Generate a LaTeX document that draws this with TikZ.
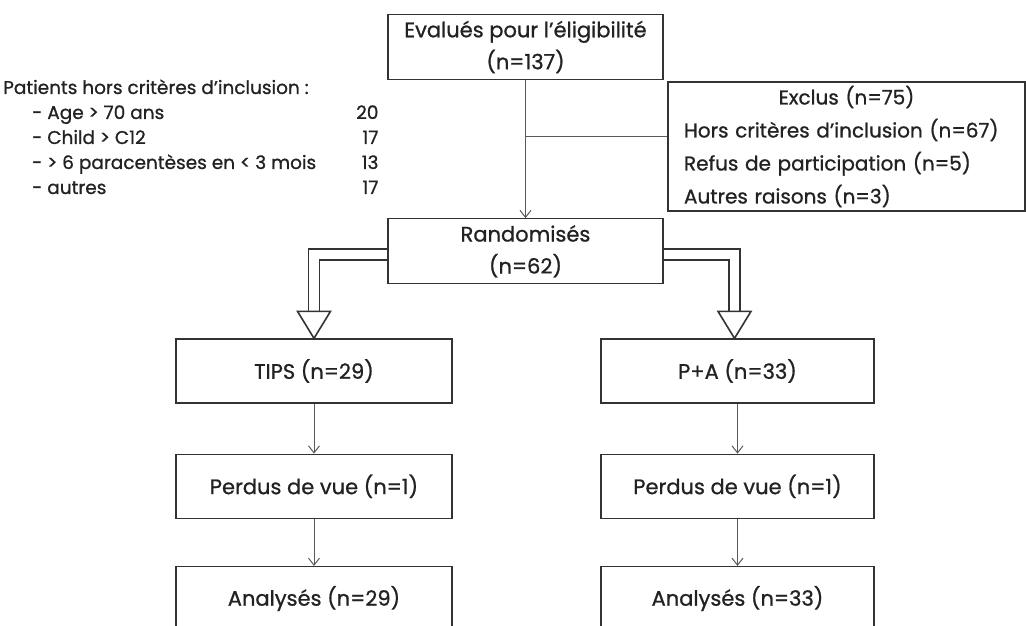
\documentclass[tikz,border=0pt]{standalone}
\usepackage{fontspec}
\setmainfont{Poppins}[FakeBold=0.9]
\usetikzlibrary{arrows.meta,positioning}
\definecolor{boxgray}{HTML}{333333}
\definecolor{linegray}{HTML}{5A5A5A}
\definecolor{txtgray}{HTML}{222222}

\begin{document}
\begin{tikzpicture}[x=1pt,y=1pt,>={Straight Barb[length=7pt,width=11pt]},
  box/.style={draw=boxgray,line width=1.3pt,minimum width=275pt,minimum height=65pt,inner sep=0pt,align=center,text=txtgray,font=\fontsize{21}{32}\selectfont},
  arr/.style={draw=linegray,line width=1pt,->},
  dbl/.style={draw=boxgray,line width=1.6pt,double=white,double distance=9.5pt,line join=miter},
  tiphead/.style={draw=boxgray,line width=1.6pt,fill=white,line join=miter}]
\useasboundingbox (0,0) rectangle (1026,626);
\node (eval) [box] at (525.5,579) {Evalués pour l’éligibilité\\(n=137)};
\node (rand) [box,below=138pt of eval] {Randomisés\\(n=62)};
\node (excl) [box,minimum width=357pt,minimum height=129pt,text width=325pt,align=left,font=\fontsize{20}{33}\selectfont] at (846.5,479.5)
  {\makebox[325pt]{Exclus (n=75)}\\Hors critères d’inclusion (n=67)\\Refus de participation (n=5)\\Autres raisons (n=3)};
\node (crit) [anchor=base west,inner sep=0pt,text=txtgray,font=\fontsize{18.5}{25}\selectfont] at (3,532)
  {\begin{tabular}[t]{@{\hspace{29pt}}p{324pt}@{}r@{}}
   \multicolumn{2}{@{}l}{Patients hors critères d’inclusion :}\\
   - Age > 70 ans & 20\\
   - Child > C12 & 17\\
   - > 6 paracentèses en < 3 mois & 13\\
   - autres & 17
   \end{tabular}};
% two arms
\node (tips) [box,minimum width=276pt,minimum height=64pt] at (314,255) {TIPS (n=29)};
\node (pa) [box,minimum width=273pt,minimum height=64pt] at (737.5,255) {P+A (n=33)};
\node (lostA) [box,minimum width=276pt,minimum height=64pt,below=50pt of tips] {Perdus de vue (n=1)};
\node (lostB) [box,minimum width=273pt,minimum height=64pt,below=50pt of pa] {Perdus de vue (n=1)};
\node (anaA) [box,minimum width=276pt,minimum height=64pt,below=47pt of lostA] {Analysés (n=29)};
\node (anaB) [box,minimum width=273pt,minimum height=64pt,below=47pt of lostB] {Analysés (n=33)};
\coordinate (bj) at ([yshift=10pt]excl.west);
\coordinate (hA) at ([yshift=27pt]tips.north);
\coordinate (hB) at ([shift={(-3pt,27pt)}]pa.north);
\draw[arr] (eval) -- (rand);
\draw[draw=linegray,line width=1pt] (eval.south |- bj) -- (bj);
\draw[arr] (tips) -- (lostA);
\draw[arr] (lostA) -- (anaA);
\draw[arr] (pa) -- (lostB);
\draw[arr] (lostB) -- (anaB);
% hollow arrows
\draw[dbl] ([yshift=-3pt]rand.west) -| (hA);
\draw[dbl] ([yshift=-3pt]rand.east) -| (hB);
\draw[tiphead] ([xshift=-16.5pt]hA) -- (tips.north) -- ([xshift=16.5pt]hA) -- cycle;
\draw[tiphead] ([xshift=-16.5pt]hB) -- (hB |- pa.north) -- ([xshift=16.5pt]hB) -- cycle;
\end{tikzpicture}
\end{document}
